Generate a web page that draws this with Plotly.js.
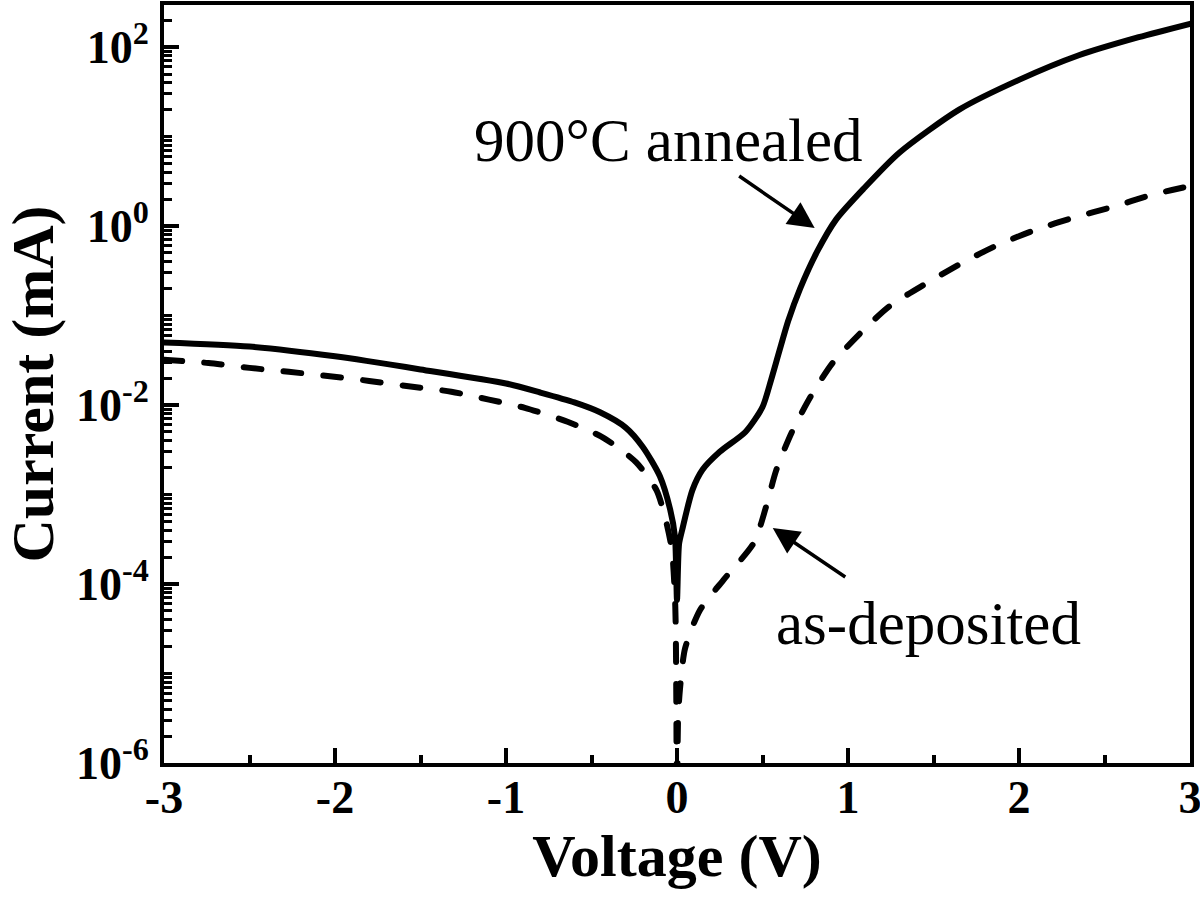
<!DOCTYPE html>
<html>
<head>
<meta charset="utf-8">
<script src="https://cdn.plot.ly/plotly-3.0.1.min.js"></script>
<style>
html,body{margin:0;padding:0;background:#fff;}
#chart{width:1200px;height:901px;}
.js-line{stroke-linecap:round;stroke-linejoin:round;}
</style>
</head>
<body>
<div id="chart"></div>
<script>
// Voltage (V) and current (mA)
const annealedV = [-3, -2.5, -2, -1.5, -1, -0.8, -0.6, -0.45, -0.3, -0.2, -0.1, -0.04, -0.012, 0, 0.012, 0.03, 0.09, 0.15, 0.25, 0.4, 0.5, 0.55, 0.6, 0.65, 0.72, 0.82, 0.93, 1.09, 1.3, 1.65, 2.0, 2.35, 2.7, 3.0];
const annealedI = [5.0e-2, 4.5e-2, 3.5e-2, 2.5e-2, 1.74e-2, 1.38e-2, 1.07e-2, 8.3e-3, 5.6e-3, 3.4e-3, 1.6e-3, 6.8e-4, 3.4e-4, 6.6e-5, 2.8e-4, 4.0e-4, 1.12e-3, 1.9e-3, 3.0e-3, 5.0e-3, 9.5e-3, 1.9e-2, 4.1e-2, 8.7e-2, 0.2, 0.52, 1.18, 2.6, 6.6, 20, 43, 81, 129, 182];

const depositedV = [-3, -2.74, -2.5, -2.27, -2.03, -1.8, -1.57, -1.32, -1.1, -0.89, -0.64, -0.43, -0.24, -0.12, -0.07, -0.03, -0.01, -0.004, 0, 0.006, 0.017, 0.047, 0.134, 0.27, 0.45, 0.52, 0.58, 0.67, 0.78, 0.91, 1.07, 1.24, 1.46, 1.67, 1.88, 2.10, 2.33, 2.54, 2.78, 3.0];
const depositedI = [3.2e-2, 2.95e-2, 2.6e-2, 2.35e-2, 2.1e-2, 1.86e-2, 1.62e-2, 1.41e-2, 1.15e-2, 9.3e-3, 6.5e-3, 4.3e-3, 2.3e-3, 1.12e-3, 5.6e-4, 2.4e-4, 5.6e-5, 5e-6, 1e-7, 3e-6, 6.6e-6, 1.9e-5, 5.1e-5, 1.1e-4, 2.9e-4, 7.2e-4, 1.86e-3, 4.9e-3, 1.23e-2, 2.95e-2, 6.3e-2, 0.126, 0.23, 0.39, 0.62, 0.91, 1.26, 1.62, 2.24, 2.8];

const xTickVals = [-3, -2, -1, 0, 1, 2, 3];
const xTickText = ['-3', '-2', '-1', '0', '1', '2', '3'];
const yTickVals = [1e-6, 1e-4, 1e-2, 1, 1e2];
const yTickText = ['10<sup>-6</sup>', '10<sup>-4</sup>', '10<sup>-2</sup>', '10<sup>0</sup>', '10<sup>2</sup>'];
const yOddDecades = [1e-5, 1e-3, 1e-1, 1e1];

const labelAnnealed = '900°C annealed';
const labelDeposited = 'as-deposited';
const xTitle = 'Voltage (V)';
const yTitle = 'Current (mA)';

const FONT = 'Liberation Serif';

const traces = [
  {x: annealedV, y: annealedI, mode: 'lines', name: labelAnnealed,
   line: {color: '#000', width: 6, shape: 'spline', smoothing: 0.7}},
  {x: depositedV, y: depositedI, mode: 'lines', name: labelDeposited,
   line: {color: '#000', width: 6, dash: '18px,22px', shape: 'spline', smoothing: 0.7}}
];

const yRange = [-6, 2.47];

const layout = {
  width: 1200, height: 901,
  margin: {l: 164, r: 10, t: 5, b: 138},
  paper_bgcolor: '#fff', plot_bgcolor: '#fff',
  showlegend: false,
  font: {family: FONT, color: '#000'},
  xaxis: {
    range: [-3, 3], tickmode: 'array', tickvals: xTickVals, ticktext: xTickText,
    ticks: 'inside', ticklen: 15, tickwidth: 4, tickcolor: '#000',
    minor: {dtick: 0.5, tick0: 0, ticks: 'inside', ticklen: 8, tickwidth: 4, tickcolor: '#000'},
    showline: true, linewidth: 4, linecolor: '#000', mirror: true,
    showgrid: false, zeroline: false,
    tickfont: {family: FONT, size: 46, weight: 'bold', color: '#000'},
    ticklabelstandoff: -9, ticklabeloverflow: 'allow',
    title: {text: xTitle, font: {family: FONT, size: 60, weight: 'bold', color: '#000'}, standoff: 0}
  },
  yaxis: {
    type: 'log', range: yRange, tickmode: 'array', tickvals: yTickVals, ticktext: yTickText,
    ticks: 'inside', ticklen: 15, tickwidth: 4, tickcolor: '#000',
    minor: {dtick: 'D1', ticks: 'inside', ticklen: 8, tickwidth: 3, tickcolor: '#000'},
    showline: true, linewidth: 4, linecolor: '#000', mirror: true,
    showgrid: false, zeroline: false,
    tickfont: {family: FONT, size: 46, weight: 'bold', color: '#000'},
    ticklabelstandoff: 2, ticklabeloverflow: 'allow',
    title: {text: yTitle, font: {family: FONT, size: 60, weight: 'bold', color: '#000'}, standoff: 8}
  },
  yaxis2: {
    type: 'log', range: yRange, overlaying: 'y', anchor: 'x', side: 'left',
    tickmode: 'array', tickvals: yOddDecades, showticklabels: false,
    ticks: 'inside', ticklen: 15, tickwidth: 4, tickcolor: '#000',
    showline: false, showgrid: false, zeroline: false
  },
  annotations: [
    {xref: 'x', yref: 'y', x: -1.2, y: 0.961, xanchor: 'left', yanchor: 'middle', showarrow: false,
     text: labelAnnealed, font: {family: FONT, size: 61, color: '#000'}},
    {xref: 'x', yref: 'y', x: 0.565, y: -4.436, xanchor: 'left', yanchor: 'middle', showarrow: false,
     text: labelDeposited, font: {family: FONT, size: 61, color: '#000'}},
    {xref: 'x', yref: 'y', x: 0.805, y: -0.022, text: '', showarrow: true,
     ax: -77, ay: -53, arrowhead: 2, arrowsize: 1.5, arrowwidth: 3.5, arrowcolor: '#000', standoff: 0},
    {xref: 'x', yref: 'y', x: 0.56, y: -3.374, text: '', showarrow: true,
     ax: 74, ay: 50, arrowhead: 2, arrowsize: 1.5, arrowwidth: 3.5, arrowcolor: '#000', standoff: 0}
  ]
};

Plotly.newPlot('chart', traces, layout, {staticPlot: true, displayModeBar: false});
</script>
</body>
</html>
